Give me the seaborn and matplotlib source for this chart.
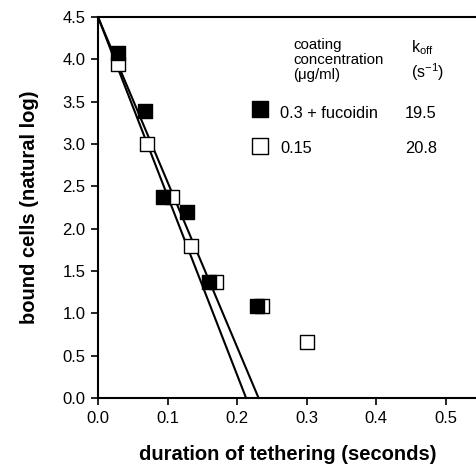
import pandas as pd
import numpy as np
import matplotlib
matplotlib.use("Agg")
import matplotlib.pyplot as plt
import seaborn as sns

# data
filled_x = [0.029, 0.067, 0.093, 0.128, 0.160, 0.228]
filled_y = [4.08, 3.39, 2.38, 2.20, 1.37, 1.09]
open_x = [0.029, 0.070, 0.107, 0.133, 0.170, 0.236, 0.300]
open_y = [3.94, 3.00, 2.38, 1.80, 1.37, 1.09, 0.66]

# fitted lines (start, x-intercept)
fit_filled_x = [0.0, 0.213]
fit_filled_y = [4.5, 0.0]
fit_open_x = [0.0, 0.231]
fit_open_y = [4.5, 0.0]

legend_labels = ["0.3 + fucoidin", "0.15"]
koff_values = ["19.5", "20.8"]

sns.set_style("ticks")
plt.rcParams['font.family'] = ['Liberation Sans', 'DejaVu Sans']
plt.rcParams['text.color'] = 'black'
plt.rcParams['axes.labelcolor'] = 'black'
plt.rcParams['xtick.color'] = 'black'
plt.rcParams['ytick.color'] = 'black'

fig = plt.figure(figsize=(4.77, 4.74), dpi=100)
ax = fig.add_axes([0.2055, 0.160, 0.7945, 0.804])

fits = pd.DataFrame({
    'x': fit_filled_x + fit_open_x,
    'y': fit_filled_y + fit_open_y,
    'fit': ['filled'] * 2 + ['open'] * 2,
})
sns.lineplot(data=fits, x='x', y='y', units='fit', estimator=None,
             color='black', lw=1.5, ax=ax, clip_on=False)

pts_filled = pd.DataFrame({'x': filled_x, 'y': filled_y})
pts_open = pd.DataFrame({'x': open_x, 'y': open_y})
sns.scatterplot(data=pts_open, x='x', y='y', marker='s', s=110,
                facecolor='white', edgecolor='black', linewidth=1.0, ax=ax, zorder=3)
sns.scatterplot(data=pts_filled, x='x', y='y', marker='s', s=110,
                facecolor='black', edgecolor='black', linewidth=1.0, ax=ax, zorder=4)

ax.set_xlim(0, 0.545)
ax.set_ylim(0, 4.5)
ax.set_xticks([0.0, 0.1, 0.2, 0.3, 0.4, 0.5])
ax.set_yticks(np.arange(0, 4.51, 0.5))
ax.xaxis.set_major_formatter(matplotlib.ticker.FormatStrFormatter('%.1f'))
ax.yaxis.set_major_formatter(matplotlib.ticker.FormatStrFormatter('%.1f'))
ax.tick_params(labelsize=12, length=5, width=1.2, color='black', pad=4)

for s in ['left', 'bottom', 'top']:
    ax.spines[s].set_linewidth(1.5)
    ax.spines[s].set_color('black')
ax.spines['right'].set_visible(False)

ax.set_xlabel('duration of tethering (seconds)', fontsize=14.5, fontweight='bold')
ax.set_ylabel('bound cells (natural log)', fontsize=14.5, fontweight='bold')
ax.xaxis.set_label_coords(0.5, -0.122)
ax.yaxis.set_label_coords(-0.155, 0.5)

# custom key
ax.text(0.515, 0.945, 'coating\nconcentration\n(\u03bcg/ml)', transform=ax.transAxes,
        fontsize=10.8, va='top', ha='left', linespacing=1.1)
ax.text(0.826, 0.945, 'k$_{\\mathregular{off}}$', transform=ax.transAxes,
        fontsize=11.5, va='top', ha='left')
ax.text(0.826, 0.885, '(s$^{\\mathregular{-1}}$)', transform=ax.transAxes,
        fontsize=11.5, va='top', ha='left')

key_y = [0.758, 0.661]
key_face = ['black', 'white']
for ky, fc in zip(key_y, key_face):
    ax.scatter([0.427], [ky], transform=ax.transAxes, marker='s', s=117,
               facecolor=fc, edgecolor='black', linewidth=1.0, clip_on=False)
text_y = [0.748, 0.656]
for ty, lab, kv in zip(text_y, legend_labels, koff_values):
    ax.text(0.48, ty, lab, transform=ax.transAxes, fontsize=11.8, va='center')
    ax.text(0.81, ty, kv, transform=ax.transAxes, fontsize=11.8, va='center')

fig.savefig('out.png', dpi=100)
